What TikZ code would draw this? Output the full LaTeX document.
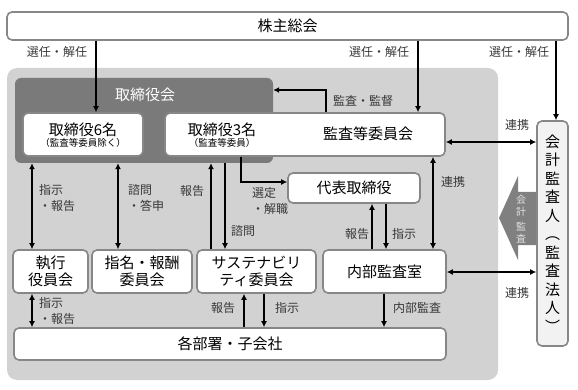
\documentclass[tikz,border=0pt]{standalone}
\usepackage{fontspec}
\setmainfont{Noto Sans CJK JP}
\usetikzlibrary{arrows.meta}
\definecolor{BackClr}{RGB}{210,210,210}
\definecolor{BoardClr}{RGB}{122,122,122}
\definecolor{EdgeClr}{RGB}{135,135,135}
\definecolor{NoteClr}{RGB}{55,55,55}
\definecolor{AuditClr}{RGB}{242,242,242}
\definecolor{ArrowClr}{RGB}{128,128,128}
\definecolor{MarkClr}{RGB}{225,225,225}

\begin{document}
\begin{tikzpicture}[x=1pt,y=-1pt,
  box/.style={draw=EdgeClr,line width=1.6pt,fill=white,rounded corners=5pt,inner sep=0pt,align=center,font=\fontsize{15}{17}\selectfont},
  big/.style={inner sep=0pt,font=\fontsize{15}{17}\selectfont},
  small/.style={inner sep=0pt,font=\fontsize{9.5}{11}\selectfont},
  note/.style={text=NoteClr,inner sep=0pt,align=left,font=\fontsize{12}{16}\selectfont},
  link/.style={line width=1.6pt,-{Latex[length=6pt,width=6pt]}},
  both/.style={line width=1.6pt,{Latex[length=6pt,width=6pt]}-{Latex[length=6pt,width=6pt]}}]
\useasboundingbox (0,0) rectangle (578,390);

\fill[BackClr,rounded corners=10pt] (7,68) rectangle (498,380);
\node[fill=BoardClr,rounded corners=6pt,inner sep=0pt,minimum width=258pt,minimum height=85pt] (board) at (144,120.5) {};
\node[big,text=white] (boardlbl) at (145,95) {取締役会};

\node[box,minimum width=561pt,minimum height=28pt] (soukai) at (287.5,26) {株主総会};
\node[box,minimum width=120pt,minimum height=43pt] (tori6) at (83,134.5) {};
\node[big] (tori6a) at (83,130) {取締役6名};
\node[small] (tori6b) at (83,143) {（監査等委員除く）};
\node[box,minimum width=280pt,minimum height=43pt] (kansa) at (305,134.5) {};
\node[big] (tori3a) at (222,130) {取締役3名};
\node[small] (tori3b) at (222,143) {（監査等委員）};
\node[big] (kansalbl) at (368,134) {監査等委員会};
\node[box,minimum width=132pt,minimum height=30pt] (daihyo) at (354,188) {代表取締役};
\node[box,minimum width=75pt,minimum height=43pt] (shikko) at (50.5,271.5) {執行\\役員会};
\node[box,minimum width=100pt,minimum height=43pt] (shimei) at (142,271.5) {指名・報酬\\委員会};
\node[box,minimum width=119pt,minimum height=43pt] (sust) at (256.5,271.5) {サステナビリ\\ティ委員会};
\node[box,minimum width=123pt,minimum height=43pt] (naibu) at (384.5,271.5) {内部監査室};
\node[box,minimum width=432pt,minimum height=32pt] (kakubu) at (230,344) {各部署・子会社};
\node[box,fill=AuditClr,minimum width=31pt,minimum height=225pt,font=\fontsize{15}{18.5}\selectfont] (kaikei) at (552.5,233.5) {会\\計\\監\\査\\人\\︵\\監\\査\\法\\人\\︶};

\fill[ArrowClr] (kaikei.west |- 0,192) -- (518,192) -- (518,176) -- (499,218) -- (518,260) -- (518,245) -- (kaikei.west |- 0,245) -- cycle;
\node[inner sep=0pt,text=MarkClr,align=center,font=\fontsize{10}{12}\selectfont] (kansamark) at (521,219) {会\\計\\[3pt]監\\査};

\draw[link] (soukai.south -| 96,0) -- (tori6.north -| 96,0);
\draw[link] (soukai.south -| 418,0) -- (kansa.north -| 418,0);
\draw[link] (soukai.south -| 556,0) -- (kaikei.north -| 556,0);
\draw[link] (kansa.north -| 326,0) |- (board.east |- 0,90);
\draw[link] (kansa.south -| 241,0) |- (daihyo.west |- 0,182);
\draw[both] (board.south -| 32,0) -- (shikko.north -| 32,0);
\draw[both] (board.south -| 118,0) -- (shimei.north -| 118,0);
\draw[link] (sust.north -| 211,0) -- (board.south -| 211,0);
\draw[link] (board.south -| 225,0) -- (sust.north -| 225,0);
\draw[link] (naibu.north -| 372,0) -- (daihyo.south -| 372,0);
\draw[link] (daihyo.south -| 386,0) -- (naibu.north -| 386,0);
\draw[both] (kansa.south -| 433,0) -- (naibu.north -| 433,0);
\draw[both] (kansa.east |- 0,142) -- (kaikei.west |- 0,142);
\draw[both] (naibu.east |- 0,272) -- (kaikei.west |- 0,272);
\draw[both] (shikko.south -| 32,0) -- (kakubu.north -| 32,0);
\draw[link] (kakubu.north -| 244,0) -- (sust.south -| 244,0);
\draw[link] (sust.south -| 264,0) -- (kakubu.north -| 264,0);
\draw[link] (naibu.south -| 384,0) -- (kakubu.north -| 384,0);

\node[note] (elect1) at (57,52) {選任・解任};
\node[note] (elect2) at (379,52) {選任・解任};
\node[note] (elect3) at (519,52) {選任・解任};
\node[note] (audit) at (363,101) {監査・監督};
\node[note,anchor=west] (order1) at (39,198) {指示\\・報告};
\node[note,anchor=west] (consult1) at (128,198) {諮問\\・答申};
\node[note] (report1) at (192,191) {報告};
\node[note,anchor=west] (select) at (252,201) {選定\\・解職};
\node[note] (consult2) at (243,231) {諮問};
\node[note] (report2) at (357,234) {報告};
\node[note] (order2) at (404,234) {指示};
\node[note] (coop1) at (453,182) {連携};
\node[note] (coop2) at (517,125) {連携};
\node[note] (coop3) at (517,293) {連携};
\node[note,anchor=west] (order3) at (39,311) {指示\\・報告};
\node[note] (report3) at (223,308) {報告};
\node[note] (order4) at (287,308) {指示};
\node[note] (inaudit) at (417,308) {内部監査};
\end{tikzpicture}
\end{document}
